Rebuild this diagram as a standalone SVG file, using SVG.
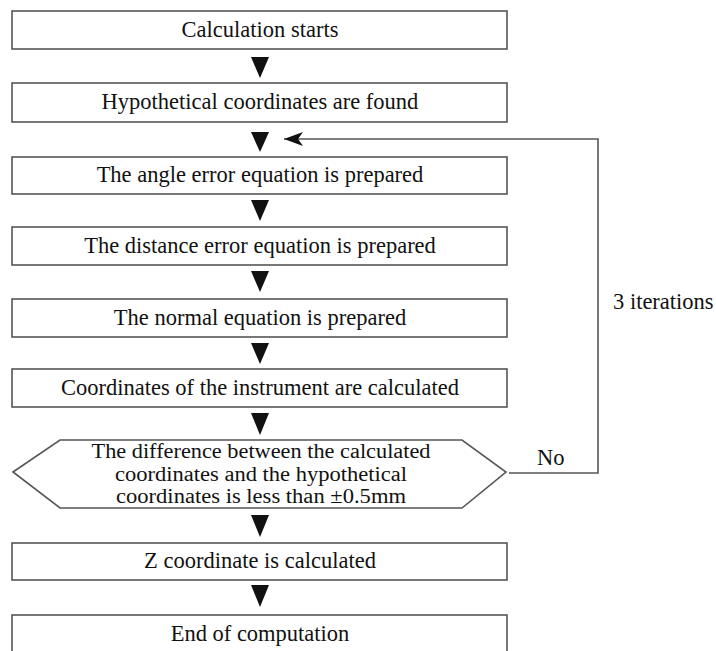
<svg xmlns="http://www.w3.org/2000/svg" width="716" height="651" viewBox="0 0 716 651">
<defs>
<style>
.box{fill:#fff;stroke:#555;stroke-width:1.6}
.t{font-family:"Liberation Serif","Times New Roman",serif;font-size:22.5px;fill:#111;text-anchor:middle}
.th{font-family:"Liberation Serif","Times New Roman",serif;font-size:20px;fill:#111;text-anchor:middle}
.tl{font-family:"Liberation Serif","Times New Roman",serif;font-size:22.5px;fill:#111}
.tri{fill:#111}
.ln{fill:none;stroke:#555;stroke-width:1.6}
</style>
<marker id="ah" markerWidth="20" markerHeight="14" refX="19" refY="7" orient="auto" markerUnits="userSpaceOnUse">
<path d="M19,7 L0,0 L5,7 L0,14 Z" fill="#111"/>
</marker>
</defs>
<rect width="716" height="651" fill="#fff"/>
<g id="connectors">
<polygon class="tri" points="251,57 269,57 260,78"/>
<polygon class="tri" points="251,132 269,132 260,152"/>
<polygon class="tri" points="251,200 269,200 260,221"/>
<polygon class="tri" points="251,271 269,271 260,292"/>
<polygon class="tri" points="251,343 269,343 260,364"/>
<polygon class="tri" points="251,413 269,413 260,435"/>
<polygon class="tri" points="251,515 269,515 260,537"/>
<polygon class="tri" points="251,585 269,585 260,607"/>
<path class="ln" d="M509,473 L598,473 L598,139 L284,139" marker-end="url(#ah)"/>
<text class="tl" x="537" y="465">No</text>
<text class="tl" x="613" y="309">3 iterations</text>
</g>
<g id="n1"><rect class="box" x="12" y="11" width="495" height="38"/><text class="t" x="260" y="37">Calculation starts</text></g>
<g id="n2"><rect class="box" x="12" y="83" width="495" height="39"/><text class="t" x="260" y="109">Hypothetical coordinates are found</text></g>
<g id="n3"><rect class="box" x="12" y="157" width="495" height="37"/><text class="t" x="260" y="182">The angle error equation is prepared</text></g>
<g id="n4"><rect class="box" x="12" y="227" width="495" height="38"/><text class="t" x="260" y="253">The distance error equation is prepared</text></g>
<g id="n5"><rect class="box" x="12" y="299" width="495" height="38"/><text class="t" x="260" y="325">The normal equation is prepared</text></g>
<g id="n6"><rect class="box" x="12" y="369" width="495" height="38"/><text class="t" x="260" y="395">Coordinates of the instrument are calculated</text></g>
<g id="n7"><polygon class="box" points="13,472 60,440 462,440 506,472 462,508 60,508"/>
<text class="th" x="261" y="458" textLength="339" lengthAdjust="spacingAndGlyphs">The difference between the calculated</text>
<text class="th" x="261" y="481" textLength="292" lengthAdjust="spacingAndGlyphs">coordinates and the hypothetical</text>
<text class="th" x="261" y="503" textLength="290" lengthAdjust="spacingAndGlyphs">coordinates is less than ±0.5mm</text></g>
<g id="n8"><rect class="box" x="12" y="543" width="495" height="37"/><text class="t" x="260" y="568">Z coordinate is calculated</text></g>
<g id="n9"><rect class="box" x="12" y="615" width="495" height="40"/><text class="t" x="260" y="641">End of computation</text></g>
</svg>
